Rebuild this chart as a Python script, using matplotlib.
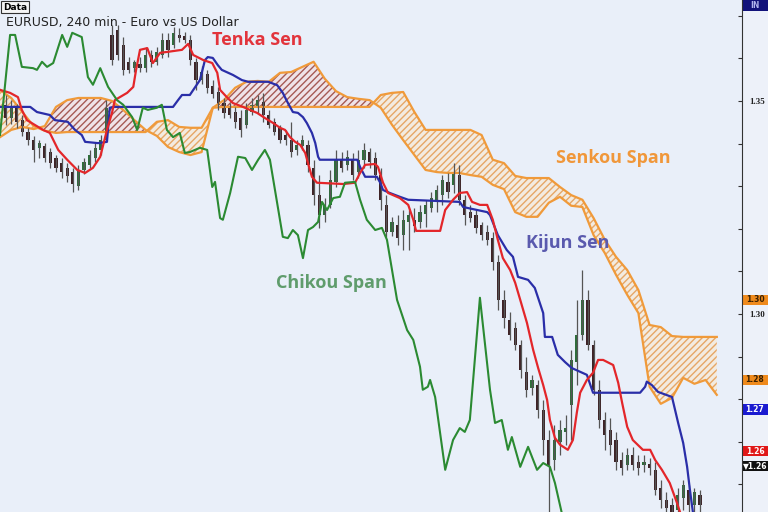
import numpy as np
import matplotlib.pyplot as plt
from matplotlib.patches import Rectangle

# EURUSD 4h candles, bar 1..125
opens = [1.3491, 1.3460, 1.3484, 1.3455, 1.3427, 1.3408, 1.3390, 1.3394, 1.3380, 1.3366,
         1.3354, 1.3343, 1.3333, 1.3300, 1.3338, 1.3350, 1.3366, 1.3385, 1.3408, 1.3655,
         1.3667, 1.3631, 1.3592, 1.3577, 1.3587, 1.3577, 1.3608, 1.3592, 1.3608, 1.3643,
         1.3631, 1.3655, 1.3653, 1.3643, 1.3592, 1.3549, 1.3563, 1.3535, 1.3521, 1.3495,
         1.3484, 1.3474, 1.3460, 1.3444, 1.3474, 1.3484, 1.3498, 1.3467, 1.3451, 1.3437,
         1.3420, 1.3408, 1.3385, 1.3394, 1.3397, 1.3343, 1.3279, 1.3232, 1.3256, 1.3310,
         1.3362, 1.3350, 1.3362, 1.3333, 1.3362, 1.3380, 1.3366, 1.3326, 1.3256, 1.3192,
         1.3209, 1.3185, 1.3216, 1.3221, 1.3216, 1.3235, 1.3249, 1.3268, 1.3279, 1.3310,
         1.3303, 1.3326, 1.3268, 1.3239, 1.3232, 1.3209, 1.3192, 1.3178, 1.3122, 1.3033,
         1.2986, 1.2967, 1.2927, 1.2864, 1.2826, 1.2833, 1.2775, 1.2704, 1.2657, 1.2700,
         1.2723, 1.2786, 1.2887, 1.2951, 1.3033, 1.2927, 1.2822, 1.2751, 1.2728, 1.2704,
         1.2657, 1.2646, 1.2669, 1.2653, 1.2646, 1.2648, 1.2634, 1.2592, 1.2563, 1.2552,
         1.2540, 1.2568, 1.2587, 1.2552, 1.2575]
closes = [1.3460, 1.3484, 1.3451, 1.3427, 1.3408, 1.3385, 1.3401, 1.3366, 1.3354, 1.3343,
          1.3333, 1.3324, 1.3305, 1.3338, 1.3357, 1.3373, 1.3390, 1.3408, 1.3484, 1.3596,
          1.3608, 1.3573, 1.3573, 1.3592, 1.3577, 1.3608, 1.3592, 1.3615, 1.3643, 1.3620,
          1.3660, 1.3648, 1.3643, 1.3596, 1.3549, 1.3568, 1.3531, 1.3516, 1.3491, 1.3472,
          1.3467, 1.3451, 1.3432, 1.3479, 1.3491, 1.3502, 1.3467, 1.3444, 1.3427, 1.3408,
          1.3408, 1.3380, 1.3397, 1.3408, 1.3350, 1.3279, 1.3232, 1.3256, 1.3315, 1.3362,
          1.3343, 1.3369, 1.3326, 1.3362, 1.3385, 1.3357, 1.3326, 1.3268, 1.3192, 1.3216,
          1.3178, 1.3221, 1.3232, 1.3207, 1.3239, 1.3256, 1.3272, 1.3291, 1.3315, 1.3286,
          1.3333, 1.3268, 1.3232, 1.3225, 1.3202, 1.3185, 1.3174, 1.3122, 1.3033, 1.2991,
          1.2951, 1.2927, 1.2869, 1.2822, 1.2845, 1.2775, 1.2704, 1.2646, 1.2704, 1.2728,
          1.2732, 1.2892, 1.2951, 1.3033, 1.2927, 1.2822, 1.2751, 1.2716, 1.2693, 1.2653,
          1.2639, 1.2669, 1.2646, 1.2639, 1.2653, 1.2639, 1.2587, 1.2563, 1.2545, 1.2535,
          1.2575, 1.2599, 1.2552, 1.2582, 1.2552]
highs = [1.3514, 1.3502, 1.3493, 1.3467, 1.3437, 1.3418, 1.3408, 1.3401, 1.3390, 1.3373,
         1.3366, 1.3354, 1.3343, 1.3350, 1.3366, 1.3385, 1.3401, 1.3420, 1.3502, 1.3678,
         1.3678, 1.3650, 1.3603, 1.3596, 1.3603, 1.3627, 1.3620, 1.3627, 1.3660, 1.3660,
         1.3674, 1.3671, 1.3662, 1.3655, 1.3601, 1.3582, 1.3573, 1.3549, 1.3533, 1.3507,
         1.3495, 1.3486, 1.3479, 1.3495, 1.3507, 1.3514, 1.3519, 1.3479, 1.3460, 1.3444,
         1.3432, 1.3451, 1.3408, 1.3420, 1.3408, 1.3362, 1.3326, 1.3272, 1.3338, 1.3385,
         1.3380, 1.3385, 1.3378, 1.3385, 1.3401, 1.3390, 1.3380, 1.3343, 1.3279, 1.3228,
         1.3232, 1.3244, 1.3244, 1.3249, 1.3256, 1.3268, 1.3286, 1.3303, 1.3326, 1.3331,
         1.3354, 1.3350, 1.3279, 1.3256, 1.3244, 1.3216, 1.3209, 1.3192, 1.3139, 1.3056,
         1.3005, 1.2981, 1.2939, 1.2899, 1.2857, 1.2845, 1.2798, 1.2728, 1.2740, 1.2751,
         1.2763, 1.2916, 1.3033, 1.3103, 1.3056, 1.2939, 1.2845, 1.2770, 1.2756, 1.2723,
         1.2676, 1.2686, 1.2688, 1.2669, 1.2669, 1.2662, 1.2653, 1.2610, 1.2582, 1.2568,
         1.2592, 1.2610, 1.2599, 1.2592, 1.2587]
lows = [1.3444, 1.3446, 1.3437, 1.3418, 1.3397, 1.3357, 1.3366, 1.3357, 1.3343, 1.3333,
        1.3319, 1.3310, 1.3286, 1.3291, 1.3329, 1.3343, 1.3357, 1.3373, 1.3404, 1.3584,
        1.3596, 1.3561, 1.3566, 1.3568, 1.3568, 1.3568, 1.3580, 1.3584, 1.3601, 1.3603,
        1.3624, 1.3638, 1.3636, 1.3584, 1.3526, 1.3540, 1.3519, 1.3507, 1.3479, 1.3460,
        1.3460, 1.3437, 1.3415, 1.3437, 1.3467, 1.3472, 1.3451, 1.3437, 1.3420, 1.3401,
        1.3397, 1.3369, 1.3373, 1.3385, 1.3333, 1.3256, 1.3202, 1.3216, 1.3249, 1.3298,
        1.3333, 1.3338, 1.3315, 1.3319, 1.3343, 1.3343, 1.3315, 1.3244, 1.3181, 1.3183,
        1.3162, 1.3150, 1.3150, 1.3192, 1.3202, 1.3204, 1.3239, 1.3239, 1.3256, 1.3272,
        1.3284, 1.3256, 1.3209, 1.3216, 1.3190, 1.3174, 1.3162, 1.3103, 1.3009, 1.2967,
        1.2939, 1.2916, 1.2850, 1.2805, 1.2810, 1.2756, 1.2669, 1.2520, 1.2634, 1.2669,
        1.2693, 1.2704, 1.2833, 1.2939, 1.2916, 1.2810, 1.2732, 1.2681, 1.2669, 1.2634,
        1.2622, 1.2634, 1.2634, 1.2622, 1.2629, 1.2622, 1.2575, 1.2545, 1.2528, 1.2517,
        1.2528, 1.2540, 1.2535, 1.2528, 1.2528]

tenkan_x = [0, 1.8, 3.2, 3.9, 4.8, 7.7, 8.9, 10.4, 12.0, 13.8, 15.2, 16.6, 17.9, 19.1, 20.0,
            20.5, 22.7, 23.8, 24.3, 25.0, 26.3, 27.3, 28.6, 29.8, 32.5, 33.6, 34.5, 36.3, 37.9,
            38.8, 39.3, 40.5, 41.6, 43.4, 44.6, 45.9, 47.3, 48.8, 50.0, 50.9, 51.8, 52.7, 53.6,
            54.5, 55.0, 55.7, 56.6, 61.3, 63.4, 64.3, 65.2, 67.0, 67.5, 68.4, 69.3, 71.4, 72.9,
            73.8, 74.3, 78.6, 79.5, 80.9, 82.1, 83.4, 84.3, 85.7, 87.0, 88.0, 88.9, 89.8, 91.1,
            92.0, 92.9, 94.1, 95.2, 96.1, 97.0, 97.7, 98.2, 99.1, 100.0, 101.4, 102.3, 103.0,
            103.6, 104.8, 105.9, 106.8, 107.7, 109.5, 110.4, 111.1, 112.0, 113.0, 114.8, 116.1,
            117.0, 118.2, 119.6, 120.9, 121.6]
tenkan_y = [1.3526, 1.3519, 1.3509, 1.3479, 1.3455, 1.3432, 1.3425, 1.3385, 1.3362, 1.3338,
            1.3331, 1.3343, 1.3369, 1.3432, 1.3472, 1.3502, 1.3519, 1.3533, 1.3573, 1.3620,
            1.3624, 1.3589, 1.3613, 1.3615, 1.3620, 1.3634, 1.3608, 1.3596, 1.3589, 1.3566,
            1.3526, 1.3509, 1.3495, 1.3486, 1.3479, 1.3472, 1.3460, 1.3448, 1.3437, 1.3432,
            1.3415, 1.3404, 1.3397, 1.3378, 1.3354, 1.3322, 1.3308, 1.3305, 1.3308, 1.3331,
            1.3350, 1.3352, 1.3345, 1.3308, 1.3284, 1.3272, 1.3256, 1.3221, 1.3195, 1.3195,
            1.3244, 1.3268, 1.3284, 1.3286, 1.3263, 1.3256, 1.3256, 1.3221, 1.3174, 1.3131,
            1.3103, 1.3073, 1.3033, 1.2979, 1.2916, 1.2873, 1.2833, 1.2798, 1.2751, 1.2709,
            1.2693, 1.2681, 1.2704, 1.2768, 1.2815, 1.2845, 1.2862, 1.2892, 1.2892, 1.2880,
            1.2838, 1.2791, 1.2735, 1.2704, 1.2681, 1.2681, 1.2657, 1.2634, 1.2603, 1.2556,
            1.2528]

kijun_x = [0, 5.4, 6.6, 8.9, 9.8, 12.1, 13.4, 14.6, 15.2, 17.5, 19.1, 19.6, 20.2, 30.9, 31.8,
           32.5, 33.9, 35.7, 36.6, 37.1, 38.0, 38.9, 39.6, 41.6, 43.2, 44.3, 47.9, 49.5, 50.5,
           51.3, 52.3, 53.2, 54.1, 54.8, 55.7, 56.3, 56.8, 57.1, 63.8, 64.3, 65.2, 67.3, 67.9,
           68.4, 69.6, 71.4, 72.9, 82.1, 82.7, 85.2, 87.0, 87.5, 88.9, 90.5, 91.6, 92.5, 94.3,
           95.5, 97.0, 97.3, 98.6, 99.6, 100.9, 102.1, 104.8, 105.9, 114.3, 115.2, 115.5,
           116.4, 117.5, 120.0, 121.1, 122.0, 122.7, 123.2, 123.8]
kijun_y = [1.3486, 1.3486, 1.3474, 1.3467, 1.3455, 1.3451, 1.3432, 1.3420, 1.3404, 1.3401,
           1.3404, 1.3484, 1.3486, 1.3486, 1.3502, 1.3514, 1.3514, 1.3549, 1.3596, 1.3603,
           1.3601, 1.3584, 1.3573, 1.3561, 1.3549, 1.3545, 1.3545, 1.3537, 1.3519, 1.3498,
           1.3474, 1.3472, 1.3462, 1.3448, 1.3425, 1.3401, 1.3369, 1.3362, 1.3362, 1.3345,
           1.3322, 1.3322, 1.3308, 1.3291, 1.3284, 1.3275, 1.3268, 1.3263, 1.3251, 1.3244,
           1.3239, 1.3232, 1.3185, 1.3150, 1.3134, 1.3087, 1.3080, 1.3061, 1.3002, 1.2946,
           1.2946, 1.2904, 1.2887, 1.2873, 1.2857, 1.2815, 1.2815, 1.2829, 1.2841, 1.2833,
           1.2817, 1.2805, 1.2744, 1.2697, 1.2641, 1.2587, 1.2528]

chikou_x = [0, 1.8, 2.7, 3.9, 5.9, 6.6, 7.5, 8.4, 9.5, 11.1, 12.0, 12.9, 14.6, 15.7, 16.6,
            17.9, 19.3, 20.9, 22.0, 23.6, 24.5, 25.5, 26.4, 28.0, 28.9, 29.8, 30.9, 32.1, 33.0,
            33.9, 35.7, 37.0, 37.9, 38.4, 39.3, 39.8, 41.1, 42.5, 43.8, 45.0, 46.1, 47.3, 48.2,
            50.5, 51.4, 52.3, 53.2, 54.1, 55.0, 55.9, 56.8, 57.5, 58.4, 59.5, 60.7, 61.6, 63.4,
            64.3, 65.5, 67.0, 68.2, 69.1, 70.9, 72.7, 73.8, 75.0, 75.5, 76.4, 76.8, 77.7, 79.5,
            80.9, 82.1, 83.0, 83.9, 85.7, 87.5, 88.4, 89.6, 90.7, 91.4, 92.9, 94.3, 95.9, 97.0,
            98.2, 99.1, 100.4]
chikou_y = [1.3420, 1.3655, 1.3655, 1.3580, 1.3577, 1.3573, 1.3592, 1.3580, 1.3589, 1.3655,
            1.3627, 1.3660, 1.3650, 1.3556, 1.3538, 1.3577, 1.3533, 1.3502, 1.3491, 1.3462,
            1.3432, 1.3484, 1.3479, 1.3484, 1.3491, 1.3432, 1.3415, 1.3425, 1.3378, 1.3380,
            1.3390, 1.3385, 1.3298, 1.3310, 1.3225, 1.3221, 1.3284, 1.3369, 1.3366, 1.3338,
            1.3362, 1.3385, 1.3362, 1.3181, 1.3178, 1.3197, 1.3185, 1.3131, 1.3197, 1.3204,
            1.3216, 1.3263, 1.3244, 1.3272, 1.3275, 1.3308, 1.3310, 1.3268, 1.3221, 1.3197,
            1.3202, 1.3174, 1.3033, 1.2962, 1.2939, 1.2876, 1.2822, 1.2829, 1.2845, 1.2805,
            1.2634, 1.2704, 1.2732, 1.2723, 1.2751, 1.3038, 1.2822, 1.2744, 1.2751, 1.2681,
            1.2711, 1.2641, 1.2688, 1.2634, 1.2650, 1.2641, 1.2603, 1.2528]

# cloud sampled every 2 bars (0..128)
cloud_x = list(range(0, 129, 2))
span_a = [1.3415, 1.3432, 1.3439, 1.3434, 1.3441, 1.3486, 1.3502, 1.3507, 1.3507, 1.3507,
          1.3500, 1.3479, 1.3455, 1.3432, 1.3418, 1.3392, 1.3380, 1.3373, 1.3380, 1.3484,
          1.3502, 1.3531, 1.3545, 1.3547, 1.3545, 1.3566, 1.3568, 1.3580, 1.3592, 1.3552,
          1.3523, 1.3509, 1.3505, 1.3502, 1.3484, 1.3444, 1.3408, 1.3373, 1.3338, 1.3333,
          1.3331, 1.3331, 1.3326, 1.3322, 1.3303, 1.3293, 1.3239, 1.3228, 1.3228, 1.3261,
          1.3275, 1.3254, 1.3251, 1.3185, 1.3143, 1.3092, 1.3045, 1.3002, 1.2829, 1.2789,
          1.2803, 1.2850, 1.2836, 1.2845, 1.2810]
span_b = [1.3526, 1.3507, 1.3474, 1.3441, 1.3430, 1.3425, 1.3427, 1.3427, 1.3427, 1.3427,
          1.3427, 1.3427, 1.3427, 1.3427, 1.3451, 1.3455, 1.3439, 1.3437, 1.3437, 1.3484,
          1.3486, 1.3486, 1.3486, 1.3486, 1.3486, 1.3486, 1.3486, 1.3486, 1.3486, 1.3486,
          1.3486, 1.3486, 1.3486, 1.3486, 1.3514, 1.3519, 1.3521, 1.3474, 1.3432, 1.3432,
          1.3432, 1.3432, 1.3432, 1.3420, 1.3362, 1.3354, 1.3324, 1.3319, 1.3319, 1.3319,
          1.3298, 1.3279, 1.3268, 1.3225, 1.3174, 1.3134, 1.3103, 1.3056, 1.2974, 1.2969,
          1.2948, 1.2946, 1.2946, 1.2946, 1.2946]

# price flags on the right scale
flag_prices = [1.3724, 1.3033, 1.2845, 1.2775, 1.2678, 1.2643]
flag_texts = ['IN', '1.30', '1.28', '1.27', '1.26', '\u25bc1.26']
flag_colors = ['#12127a', '#ef8a1c', '#ef8a1c', '#1a1ad0', '#e01818', '#111111']
flag_textcolors = ['#b0b4ee', '#3a2000', '#3a2000', 'white', 'white', 'white']


def main():
	plt.rcParams['hatch.linewidth'] = 1.0
	fig = plt.figure(figsize=(7.68, 5.12), dpi=100, facecolor='#edf1f9')
	ax = fig.add_axes([0, 0, 742 / 768, 1])
	ax.set_facecolor('#e9eff9')

	# kumo
	cx = np.array(cloud_x)
	a = np.array(span_a)
	b = np.array(span_b)
	up = a >= b
	ax.fill_between(cx, a, b, where=up, interpolate=True, facecolor='#efe3e8',
		edgecolor='#a55a55', hatch='/////', linewidth=0)
	ax.fill_between(cx, a, b, where=~up, interpolate=True, facecolor='#f3ebe0',
		edgecolor='#e6a766', hatch='/////', linewidth=0)
	ax.plot(cx, a, color='#f09a3a', lw=1.6)
	ax.plot(cx, b, color='#f09a3a', lw=1.6)

	# candles
	o = np.array(opens)
	c = np.array(closes)
	bx = np.arange(1, len(o) + 1)
	bull = c >= o
	ax.vlines(bx, lows, highs, color='#555555', lw=0.9)
	ax.bar(bx[bull], (c - o)[bull], bottom=o[bull], width=0.6, color='#2f6e3b')
	ax.bar(bx[~bull], (o - c)[~bull], bottom=c[~bull], width=0.6, color='#3e2327')

	ax.plot(kijun_x, kijun_y, color='#2a2ea8', lw=1.6)
	ax.plot(tenkan_x, tenkan_y, color='#e3262a', lw=1.6)
	ax.plot(chikou_x, chikou_y, color='#2b8a32', lw=1.5)

	lab = dict(fontsize=13, fontweight='bold', family='Open Sans', ha='center', va='center')
	ax.text(46, 1.3643, 'Tenka Sen', color='#e2343c', **lab)
	ax.text(109.5, 1.3366, 'Senkou Span', color='#f0973a', **lab)
	ax.text(101.4, 1.3167, 'Kijun Sen', color='#5a5aae', **lab)
	ax.text(59.1, 1.3073, 'Chikou Span', color='#5f9c6c', **lab)

	ax.set_xlim(0, 742 / 5.6)
	ax.set_ylim(1.2535, 1.3737)
	for s in ['left', 'top', 'bottom']:
		ax.spines[s].set_visible(False)
	ax.spines['right'].set_color('#333333')
	ax.set_xticks([])
	ax.yaxis.tick_right()
	yt = np.round(np.arange(1.26, 1.371, 0.01), 2)
	ax.set_yticks(yt)
	ax.set_yticklabels(['%.2f' % v if v in (1.30, 1.35) else '' for v in yt])
	ax.tick_params(axis='y', direction='in', length=3, width=0.8, color='#333333',
		labelsize=6.5, pad=5, labelcolor='#222222')
	for t in ax.get_yticklabels():
		t.set_fontweight('bold')
		t.set_family('Liberation Serif')

	# flags: box from the spine to the image edge, text kept inside
	tr = ax.get_yaxis_transform()
	bw = 26 / 742
	bh = 0.0025
	for p, s, fc, tc in zip(flag_prices, flag_texts, flag_colors, flag_textcolors):
		ax.add_patch(Rectangle((1.0, p - bh / 2), bw, bh, transform=tr, facecolor=fc,
			edgecolor='none', clip_on=False))
		ax.text(1.0 + bw / 2, p, s, transform=tr, fontsize=5.5, fontweight='bold', color=tc,
			va='center', ha='center', clip_on=False)

	fig.text(0.004, 0.995, 'Data', fontsize=6.5, fontweight='bold', va='top', ha='left',
		bbox=dict(facecolor='#f5f5f5', edgecolor='#333333', pad=1.2, lw=0.8))
	fig.text(0.008, 0.957, 'EURUSD, 240 min - Euro vs US Dollar', fontsize=9, va='center',
		ha='left', color='#222222')

	fig.savefig('out.png', dpi=100, facecolor=fig.get_facecolor())


if __name__ == "__main__":
	main()
